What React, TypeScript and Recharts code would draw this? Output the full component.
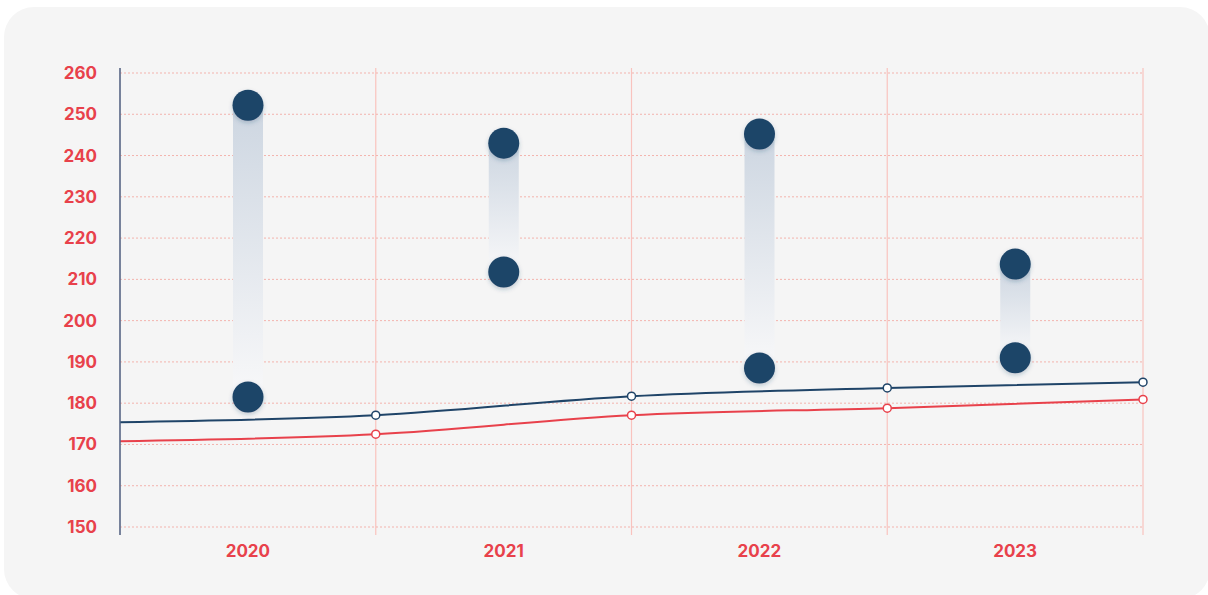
import { ComposedChart, Bar, Line, XAxis, YAxis, CartesianGrid } from "recharts";

const years = ["2020", "2021", "2022", "2023"];
const rangeLow = [181.5, 211.8, 188.5, 191.0];
const rangeHigh = [252.2, 243.0, 245.2, 213.7];

const linePos = [0, 1, 2, 3, 4];
const navyValues = [175.4, 177.1, 181.7, 183.7, 185.1];
const redValues = [170.8, 172.5, 177.1, 178.8, 180.9];

const yTicks = [150, 160, 170, 180, 190, 200, 210, 220, 230, 240, 250, 260];

const NAVY = "#1f4468";
const RED = "#e8414b";

const barData = years.map((y, i) => ({ year: y, range: [rangeLow[i], rangeHigh[i]] }));
const lineData = linePos.map((p, i) => ({ pos: p, navy: navyValues[i], red: redValues[i] }));

function RangeShape(props: any) {
  const { x, y, width, height } = props;
  const cx = x + width / 2;
  return (
    <g>
      <rect x={x} y={y} width={width} height={height} fill="url(#rangeGrad)" />
      <circle cx={cx} cy={y} r={15.5} fill={NAVY} filter="url(#dotShadow)" />
      <circle cx={cx} cy={y + height} r={15.5} fill={NAVY} filter="url(#dotShadow)" />
    </g>
  );
}

function makeDot(color: string) {
  return (props: any) => {
    const { cx, cy, index } = props;
    if (index === 0) return <g key={`d-${index}`} />;
    return <circle key={`d-${index}`} cx={cx} cy={cy} r={4} fill="#fff" stroke={color} strokeWidth={1.5} />;
  };
}

const tickStyle = { fill: RED, fontSize: 17, fontWeight: 700, fontFamily: "Inter, sans-serif" };

export default function App() {
  return (
    <div style={{ position: "relative", width: 1208, height: 595, overflow: "hidden" }}>
      <style>{"body{margin:0;overflow:hidden}"}</style>
      <div
        style={{
          position: "absolute",
          left: 4,
          top: 7,
          width: 1206,
          height: 592,
          borderRadius: 30,
          background: "#f5f5f5",
        }}
      />
      <div style={{ position: "absolute", left: 0, top: 0 }}>
        <ComposedChart width={1208} height={595} data={barData} margin={{ top: 68, right: 65, bottom: 20, left: 0 }}>
          <defs>
            <linearGradient id="rangeGrad" x1="0" y1="0" x2="0" y2="1">
              <stop offset="0%" stopColor="#cdd6e1" />
              <stop offset="100%" stopColor="#f8f8f9" />
            </linearGradient>
            <filter id="dotShadow" x="-50%" y="-50%" width="200%" height="200%">
              <feDropShadow dx="0" dy="2" stdDeviation="2" floodColor="#1f4468" floodOpacity="0.25" />
            </filter>
          </defs>
          <CartesianGrid
            xAxisId="line"
            horizontal={false}
            verticalValues={linePos}
            stroke="#f9c3be"
            strokeWidth={1.2}
          />
          <CartesianGrid
            xAxisId="line"
            vertical={false}
            horizontalValues={yTicks}
            stroke="#f3b3ad"
            strokeDasharray="2 2"
            strokeWidth={1}
          />
          <XAxis
            xAxisId="cat"
            dataKey="year"
            type="category"
            axisLine={false}
            tickLine={false}
            tick={tickStyle}
            tickMargin={4}
            height={40}
          />
          <XAxis xAxisId="line" type="number" dataKey="pos" domain={[0, 4]} ticks={linePos} hide />
          <YAxis
            type="number"
            domain={[150, 260]}
            ticks={yTicks}
            padding={{ top: 5, bottom: 8 }}
            width={120}
            axisLine={{ stroke: "#4d6688", strokeWidth: 1.5 }}
            tickLine={false}
            tickMargin={17}
            tick={tickStyle}
          />
          <Bar xAxisId="cat" dataKey="range" barSize={30} shape={RangeShape} isAnimationActive={false} />
          <Line
            xAxisId="line"
            data={lineData}
            dataKey="navy"
            type="monotone"
            stroke={NAVY}
            strokeWidth={2}
            dot={makeDot(NAVY)}
            activeDot={false}
            isAnimationActive={false}
          />
          <Line
            xAxisId="line"
            data={lineData}
            dataKey="red"
            type="monotone"
            stroke={RED}
            strokeWidth={2}
            dot={makeDot(RED)}
            activeDot={false}
            isAnimationActive={false}
          />
        </ComposedChart>
      </div>
    </div>
  );
}
